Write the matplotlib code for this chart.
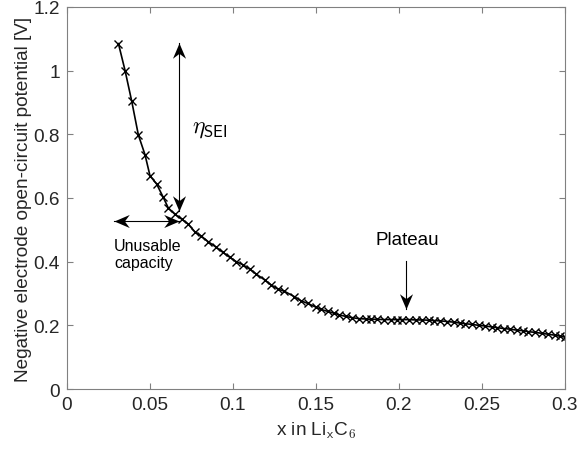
import numpy as np
import matplotlib
matplotlib.use("Agg")
import matplotlib.pyplot as plt
from matplotlib.path import Path

plt.rcParams['font.family'] = ['Liberation Sans', 'DejaVu Sans']
plt.rcParams['mathtext.fontset'] = 'cm'

# data
x_li = [0.031, 0.035, 0.039, 0.043, 0.047, 0.050, 0.054, 0.058, 0.061, 0.065,
        0.069, 0.073, 0.077, 0.081, 0.085, 0.090, 0.094, 0.098, 0.102, 0.106,
        0.110, 0.114, 0.119, 0.123, 0.127, 0.131, 0.137, 0.141, 0.145, 0.150,
        0.153, 0.157, 0.161, 0.164, 0.168, 0.172, 0.176, 0.180, 0.183, 0.187,
        0.191, 0.195, 0.199, 0.202, 0.206, 0.210, 0.214, 0.218, 0.221, 0.225,
        0.229, 0.233, 0.237, 0.240, 0.244, 0.248, 0.252, 0.256, 0.259, 0.263,
        0.267, 0.271, 0.275, 0.278, 0.282, 0.286, 0.290, 0.294, 0.297, 0.300]
ocp = [1.085, 1.000, 0.904, 0.798, 0.736, 0.670, 0.644, 0.602, 0.569, 0.549,
       0.534, 0.518, 0.494, 0.480, 0.463, 0.445, 0.429, 0.414, 0.400, 0.390,
       0.377, 0.361, 0.343, 0.327, 0.314, 0.307, 0.290, 0.277, 0.269, 0.257,
       0.250, 0.244, 0.238, 0.233, 0.228, 0.224, 0.221, 0.220, 0.219, 0.219,
       0.218, 0.218, 0.218, 0.218, 0.218, 0.217, 0.217, 0.216, 0.215, 0.214,
       0.212, 0.210, 0.207, 0.205, 0.203, 0.200, 0.198, 0.195, 0.193, 0.190,
       0.188, 0.185, 0.183, 0.180, 0.178, 0.175, 0.172, 0.169, 0.166, 0.163]

fig = plt.figure(figsize=(5.79, 4.56), dpi=100)
ax = fig.add_axes([0.1157, 0.1447, 0.86, 0.8378])

ax.plot(x_li, ocp, '-x', color='k', lw=1.2, ms=6, mew=1.0)

ax.set_xlim(0, 0.3)
ax.set_ylim(0, 1.2)
ax.set_xticks([0, 0.05, 0.1, 0.15, 0.2, 0.25, 0.3])
ax.set_xticklabels(['0', '0.05', '0.1', '0.15', '0.2', '0.25', '0.3'])
ax.set_yticks([0, 0.2, 0.4, 0.6, 0.8, 1, 1.2])
ax.set_yticklabels(['0', '0.2', '0.4', '0.6', '0.8', '1', '1.2'])

gray = '#262626'
for s in ax.spines.values():
    s.set_color('#808080')
    s.set_linewidth(0.8)
ax.tick_params(direction='in', top=True, right=True, length=4, width=0.8,
               color='#808080', labelsize=13.7, labelcolor=gray, pad=5)

ax.set_xlabel(r'x in Li$_{\mathsf{x}}$C$_{\mathsf{6}}$', fontsize=13.7, color=gray, labelpad=5)
ax.set_ylabel('Negative electrode open-circuit potential [V]', fontsize=13.7,
              color=gray, labelpad=1)

# notched arrow heads (tip at the origin)
def head(angle):
    pts = np.array([[0, 0], [-6, -14], [0, -9.5], [6, -14], [0, 0]], float)
    c, s = np.cos(np.radians(angle)), np.sin(np.radians(angle))
    pts = pts @ np.array([[c, s], [-s, c]])
    return Path(pts, [1, 2, 2, 2, 79])

UP, DOWN, LEFT, RIGHT = head(0), head(180), head(90), head(-90)
hs = 22

# eta_SEI double arrow
ax.plot([0.0677, 0.0677], [1.087, 0.559], color='k', lw=0.8)
ax.plot(0.0677, 1.087, marker=UP, ms=hs, color='k', mew=0)
ax.plot(0.0677, 0.559, marker=DOWN, ms=hs, color='k', mew=0)
ax.text(0.0755, 0.82, r'$\eta_{\mathsf{SEI}}$', fontsize=17, ha='left', va='center')

# unusable capacity
ax.plot([0.0283, 0.0675], [0.528, 0.528], color='k', lw=0.8)
ax.plot(0.0283, 0.528, marker=LEFT, ms=hs, color='k', mew=0)
ax.plot(0.0675, 0.528, marker=RIGHT, ms=hs, color='k', mew=0)
ax.text(0.0283, 0.425, 'Unusable\ncapacity', fontsize=11.5, ha='left', va='center',
        linespacing=1.2)

# plateau
ax.plot([0.204, 0.204], [0.403, 0.252], color='k', lw=0.8)
ax.plot(0.204, 0.252, marker=DOWN, ms=hs, color='k', mew=0)
ax.text(0.205, 0.47, 'Plateau', fontsize=13.5, ha='center', va='center')

fig.savefig('out.png', dpi=100)
